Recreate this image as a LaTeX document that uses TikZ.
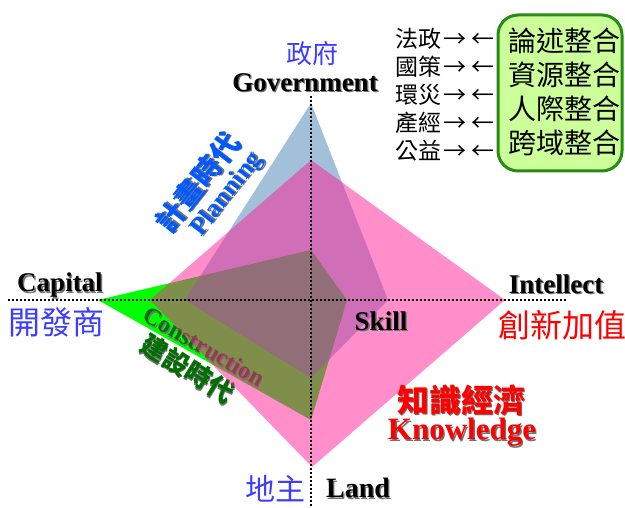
\documentclass[tikz,border=0pt]{standalone}
\usepackage{fontspec}
\setmainfont{Liberation Serif}
\newfontfamily\cjk{Noto Sans CJK TC}
\definecolor{plblue}{RGB}{70,130,180}
\definecolor{kpink}{RGB}{255,30,150}
\definecolor{cgreen}{RGB}{0,255,0}
\definecolor{lblue}{RGB}{60,60,255}
\definecolor{tblue}{RGB}{0,90,255}
\definecolor{dgreen}{RGB}{0,110,0}
\definecolor{boxfill}{RGB}{204,255,153}
\definecolor{boxline}{RGB}{40,140,20}
\newcommand\shd[1]{\rlap{\kern1.4pt\raisebox{-1.4pt}{\color{black!55}#1}}#1}
\newcommand\arr{\kern2pt→\kern5pt←}
\begin{document}
\begin{tikzpicture}[x=1pt,y=-1pt,
  en/.style={inner sep=0pt,font={\bfseries\fontsize{#1}{#1}\selectfont}},
  zh/.style={inner sep=0pt,font={\cjk\fontsize{#1}{#1}\selectfont}},
  zhb/.style={inner sep=0pt,font={\cjk\bfseries\fontsize{#1}{#1}\selectfont}},
  axis/.style={line width=1.6pt,dash pattern=on 1.6pt off 2.4pt},
  listrow/.style={zh=23,anchor=west},
  boxrow/.style={zh=28}]
\useasboundingbox (0,0) rectangle (625,508);
% construction (green)
\fill[cgreen] (311,250) -- (347,300) -- (311,420) -- (98,300) -- cycle;
\node[en=24,text=dgreen,rotate=-30] (constr) at (204,347) {\shd{Construction}};
\node[zhb=26,text=dgreen,rotate=-32] (constrzh) at (187,369) {\shd{建設時代}};
% planning (blue)
\fill[plblue,fill opacity=0.5] (311,103) -- (388,300) -- (311,378) -- (185,300) -- cycle;
% knowledge (pink)
\fill[kpink,fill opacity=0.5] (311,160) -- (505,300) -- (312,467) -- (150,300) -- cycle;
% axes
\coordinate (vtop) at (311,96);
\coordinate (vbot) at (311,508);
\coordinate (hl) at (8,300);
\coordinate (hr) at (567,300);
\draw[axis] (vtop) -- (vbot);
\draw[axis] (hl) -- (hr);
% labels
\node[zh=26,text=lblue] (zf) at (312,54) {政府};
\node[en=27] (gov) at (305,83) {\shd{Government}};
\node[en=27] (cap) at (60,286) {\shd{Capital}};
\node[zh=32,text=lblue] (kfs) at (57,322) {開發商};
\node[en=27] (intl) at (556,285) {\shd{Intellect}};
\node[zh=32,text=red] (cxjz) at (562,325) {創新加值};
\node[en=27] (skill) at (381,322) {\shd{Skill}};
\node[zhb=32,text=red] (zsjj) at (461,401) {\shd{知識經濟}};
\node[en=31,text=red] (know) at (462,433) {\shd{Knowledge}};
\node[zh=30,text=lblue] (dz) at (275,489) {地主};
\node[en=28] (land) at (358,489) {\shd{Land}};
\node[zhb=29,text=tblue,rotate=52] (plzh) at (198,183) {\shd{計畫時代}};
\node[en=26,text=tblue,rotate=52] (plan) at (228,195) {\shd{Planning}};
% list
\node[listrow] (r1) at (395,38.5) {法政\arr};
\node[listrow] (r2) at (395,66.5) {國策\arr};
\node[listrow] (r3) at (395,94.5) {環災\arr};
\node[listrow] (r4) at (395,122.5) {產經\arr};
\node[listrow] (r5) at (395,151) {公益\arr};
% box
\draw[boxline,fill=boxfill,line width=3pt,rounded corners=20pt] (498,15) rectangle (622,171);
\node[boxrow] (b1) at (564,41) {論述整合};
\node[boxrow] (b2) at (564,75) {資源整合};
\node[boxrow] (b3) at (564,109) {人際整合};
\node[boxrow] (b4) at (564,143) {跨域整合};
\end{tikzpicture}
\end{document}
